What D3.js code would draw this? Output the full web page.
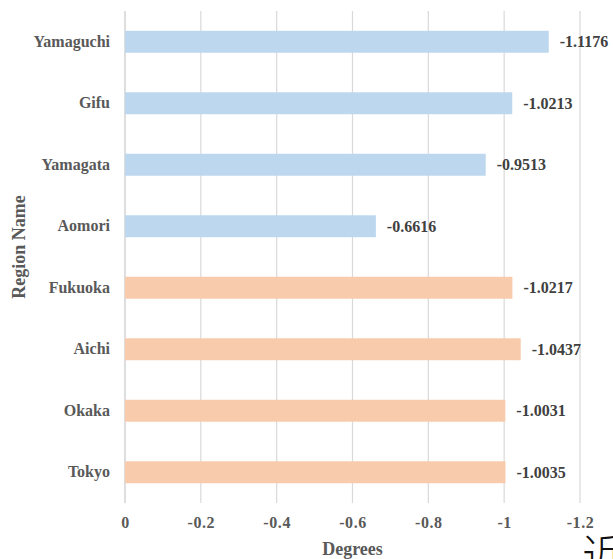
<!DOCTYPE html>
<html>
<head>
<meta charset="utf-8">
<script src="https://cdn.jsdelivr.net/npm/d3@7"></script>
<style>
  html, body { margin: 0; padding: 0; background: #fff; overflow: hidden; }
  svg { display: block; }
</style>
</head>
<body>
<script>
// Regions listed top to bottom, with their group and value in degrees
const regions = ["Yamaguchi", "Gifu", "Yamagata", "Aomori", "Fukuoka", "Aichi", "Okaka", "Tokyo"];
const groups  = ["A", "A", "A", "A", "B", "B", "B", "B"];
const values  = [-1.1176, -1.0213, -0.9513, -0.6616, -1.0217, -1.0437, -1.0031, -1.0035];
const xTicks  = [0, -0.2, -0.4, -0.6, -0.8, -1, -1.2];
const groupColors = { A: "#BDD7EE", B: "#F8CBAD" };

const W = 613, H = 559;
const margin = { left: 125, right: 33, top: 11, bottom: 56 };
const serif = "'Liberation Serif', 'Times New Roman', serif";
const hyphenMinus = s => String(s).replace(/\u2212/g, "-");

const svg = d3.select("body").append("svg")
  .attr("width", W).attr("height", H);

const x = d3.scaleLinear()
  .domain([0, -1.2])
  .range([margin.left, W - margin.right]);

const y = d3.scaleBand()
  .domain(regions)
  .range([margin.top, H - margin.bottom])
  .paddingInner(0.643)
  .paddingOuter(0.3215);

// vertical gridlines
svg.append("g")
  .selectAll("line")
  .data(xTicks)
  .join("line")
  .attr("x1", d => x(d)).attr("x2", d => x(d))
  .attr("y1", margin.top).attr("y2", H - margin.bottom)
  .attr("stroke", d => d === 0 ? "#c8c8c8" : "#d9d9d9")
  .attr("stroke-width", 1.2);

// x tick labels
const xAxis = d3.axisBottom(x)
  .tickValues(xTicks)
  .tickFormat(d => hyphenMinus(d3.format("")(d)))
  .tickSize(0)
  .tickPadding(0);
const gx = svg.append("g")
  .attr("transform", `translate(0,${H - margin.bottom})`)
  .call(xAxis);
gx.select(".domain").remove();
gx.selectAll("text")
  .attr("dy", null)
  .attr("y", 25)
  .attr("font-family", serif)
  .attr("font-weight", "bold")
  .attr("font-size", 16)
  .attr("letter-spacing", 0.6)
  .attr("fill", "#595959");

// bars
svg.append("g")
  .selectAll("rect")
  .data(regions)
  .join("rect")
  .attr("x", x(0))
  .attr("y", d => y(d))
  .attr("width", (d, i) => x(values[i]) - x(0))
  .attr("height", y.bandwidth())
  .attr("fill", (d, i) => groupColors[groups[i]]);

// region labels
const yAxis = d3.axisLeft(y).tickSize(0).tickPadding(15);
const gy = svg.append("g")
  .attr("transform", `translate(${margin.left},0)`)
  .call(yAxis);
gy.select(".domain").remove();
gy.selectAll("text")
  .attr("font-family", serif)
  .attr("font-weight", "bold")
  .attr("font-size", 16)
  .attr("fill", "#595959");

// value labels
svg.append("g")
  .selectAll("text")
  .data(regions)
  .join("text")
  .attr("x", (d, i) => x(values[i]) + 11)
  .attr("y", d => y(d) + y.bandwidth() / 2)
  .attr("dy", "0.35em")
  .attr("font-family", serif)
  .attr("font-weight", "bold")
  .attr("font-size", 16)
  .attr("fill", "#404040")
  .text((d, i) => hyphenMinus(d3.format(".4f")(values[i])));

// axis titles
svg.append("text")
  .attr("x", (x(0) + x(-1.2)) / 2)
  .attr("y", 555)
  .attr("text-anchor", "middle")
  .attr("font-family", serif)
  .attr("font-weight", "bold")
  .attr("font-size", 18)
  .attr("fill", "#595959")
  .text("Degrees");

svg.append("text")
  .attr("transform", `translate(25,${(margin.top + H - margin.bottom) / 2 - 10}) rotate(-90)`)
  .attr("text-anchor", "middle")
  .attr("font-family", serif)
  .attr("font-weight", "bold")
  .attr("font-size", 18)
  .attr("fill", "#595959")
  .text("Region Name");

// stray glyph at the lower right corner
svg.append("text")
  .attr("x", 582)
  .attr("y", 572)
  .attr("font-family", "'Noto Sans CJK SC', sans-serif")
  .attr("font-size", 44)
  .attr("font-weight", 300)
  .attr("fill", "#111")
  .text("近");
</script>
</body>
</html>
